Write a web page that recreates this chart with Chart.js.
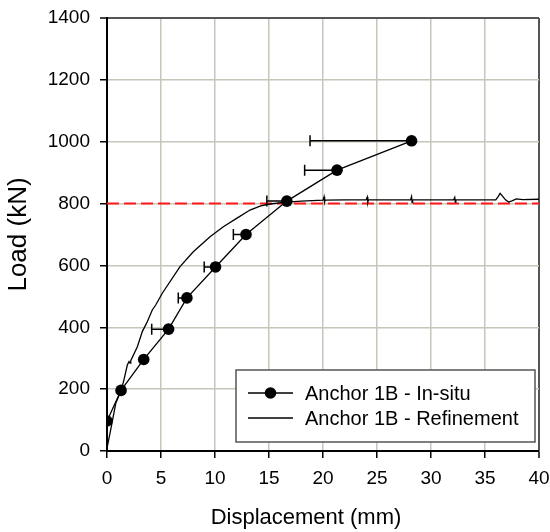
<!DOCTYPE html>
<html>
<head>
<meta charset="utf-8">
<script src="https://cdn.jsdelivr.net/npm/chart.js@4/dist/chart.umd.min.js"></script>
<style>
  html, body { margin: 0; padding: 0; background: #ffffff; }
  #wrap { width: 550px; height: 532px; }
</style>
</head>
<body>
<div id="wrap"><canvas id="c" width="550" height="532"></canvas></div>
<script>
// ---- Data ----
const insituLabel = 'Anchor 1B - In-situ';
const insituX = [0, 1.3, 3.4, 5.7, 7.4, 10.05, 12.87, 16.65, 21.3, 28.2];
const insituY = [97, 196, 296, 394, 495, 595, 700, 808, 908, 1003];
const insituErrLeft = [null, null, null, 4.14, 6.6, 9.0, 11.7, 14.8, 18.3, 18.8];

const refineLabel = 'Anchor 1B - Refinement';
const refineX = [0, 0.03, 0.34, 0.81, 1.32, 1.57, 1.88, 2.04, 2.13, 2.2, 2.81, 3.27, 3.73, 4.19, 4.51, 5.12, 6.76, 7.99, 9.54, 10.77, 12.0, 13.24, 14.17, 14.8, 16.3, 18.0, 20.0, 20.1, 20.15, 20.2, 22.0, 24.0, 24.1, 24.15, 24.2, 26.0, 28.1, 28.2, 28.25, 28.3, 30.0, 32.1, 32.2, 32.25, 32.3, 34.0, 36.0, 36.2, 36.4, 36.6, 36.9, 37.2, 37.5, 37.9, 38.5, 40.0];
const refineY = [0, 14, 68, 154, 197, 230, 278, 289, 284, 292, 337, 386, 418, 456, 472, 510, 596, 644, 693, 725, 752, 779, 792, 797, 804, 808, 811, 822, 805, 811, 812, 812, 821, 804, 812, 812, 812, 823, 803, 812, 812, 812, 820, 805, 812, 812, 812, 822, 833, 825, 812, 805, 809, 815, 813, 814];

const limitX = [0, 40];
const limitY = [800, 800];

const xTicks = [0, 5, 10, 15, 20, 25, 30, 35, 40];
const yTicks = [0, 200, 400, 600, 800, 1000, 1200, 1400];
const xTitle = 'Displacement (mm)';
const yTitle = 'Load (kN)';

// ---- Build ----
const toPts = (xs, ys) => xs.map((x, i) => ({ x: x, y: ys[i] }));
const FONT = "'Liberation Sans', Arial, Helvetica, sans-serif";
const GRID = '#c6c6bb';
const FRAME = '#555555';

const bgPlugin = {
  id: 'bg',
  beforeDraw(chart) {
    const ctx = chart.ctx;
    ctx.save();
    ctx.fillStyle = '#ffffff';
    ctx.fillRect(0, 0, chart.width, chart.height);
    ctx.restore();
  }
};

const errPlugin = {
  id: 'errbars',
  afterDatasetsDraw(chart) {
    const ctx = chart.ctx, xs = chart.scales.x, ys = chart.scales.y;
    ctx.save();
    ctx.strokeStyle = '#000';
    ctx.lineWidth = 1.5;
    insituErrLeft.forEach((e, i) => {
      if (e === null) return;
      const x0 = xs.getPixelForValue(e), x1 = xs.getPixelForValue(insituX[i]);
      const y = ys.getPixelForValue(insituY[i]);
      ctx.beginPath();
      ctx.moveTo(x0, y); ctx.lineTo(x1, y);
      ctx.moveTo(x0, y - 5.5); ctx.lineTo(x0, y + 5.5);
      ctx.stroke();
    });
    ctx.restore();
  }
};

const legendPlugin = {
  id: 'boxlegend',
  afterDraw(chart) {
    const ctx = chart.ctx;
    const bx = 236, by = 370, bw = 299, bh = 72;
    ctx.save();
    ctx.fillStyle = '#ffffff';
    ctx.fillRect(bx, by, bw, bh);
    ctx.strokeStyle = FRAME;
    ctx.lineWidth = 1.5;
    ctx.strokeRect(bx, by, bw, bh);
    const rows = [chart.data.datasets[0], chart.data.datasets[1]];
    rows.forEach((ds, i) => {
      const y = 393 + i * 25;
      ctx.strokeStyle = ds.borderColor;
      ctx.lineWidth = ds.borderWidth;
      ctx.beginPath();
      ctx.moveTo(248, y); ctx.lineTo(293, y);
      ctx.stroke();
      if (ds.pointRadius > 0) {
        ctx.fillStyle = ds.pointBackgroundColor;
        ctx.beginPath();
        ctx.arc(270.5, y, ds.pointRadius, 0, Math.PI * 2);
        ctx.fill();
      }
      ctx.fillStyle = '#000';
      ctx.font = '20px ' + FONT;
      ctx.textAlign = 'left';
      ctx.textBaseline = 'middle';
      ctx.fillText(ds.label, 305, y + 1);
    });
    ctx.restore();
  }
};

const xTitlePlugin = {
  id: 'xtitle',
  afterDraw(chart) {
    const ctx = chart.ctx;
    ctx.save();
    ctx.fillStyle = '#000';
    ctx.font = '22px ' + FONT;
    ctx.textAlign = 'center';
    ctx.textBaseline = 'middle';
    ctx.fillText(xTitle, 306, 518);
    ctx.restore();
  }
};

new Chart(document.getElementById('c'), {
  type: 'scatter',
  data: {
    datasets: [
      {
        label: insituLabel,
        data: toPts(insituX, insituY),
        showLine: true,
        borderColor: '#000000',
        borderWidth: 1.3,
        pointRadius: 5.8,
        pointHoverRadius: 5.8,
        pointBackgroundColor: '#000000',
        pointBorderWidth: 0,
        order: 1
      },
      {
        label: refineLabel,
        data: toPts(refineX, refineY),
        showLine: true,
        borderColor: '#000000',
        borderWidth: 1.3,
        pointRadius: 0,
        tension: 0,
        order: 2
      },
      {
        label: 'limit',
        data: toPts(limitX, limitY),
        showLine: true,
        borderColor: '#ff1a1a',
        borderWidth: 2,
        borderDash: [12, 5],
        pointRadius: 0,
        order: 3
      }
    ]
  },
  options: {
    responsive: false,
    animation: false,
    devicePixelRatio: 1,
    layout: { padding: { left: 0, right: 11, top: 18, bottom: 0 } },
    plugins: { legend: { display: false }, tooltip: { enabled: false } },
    scales: {
      x: {
        type: 'linear',
        min: 0, max: 40,
        afterBuildTicks(s) { s.ticks = xTicks.map(v => ({ value: v })); },
        afterFit(s) { s.height = 81; s.paddingLeft = 0; s.paddingRight = 0; },
        grid: {
          color: (c) => (c.tick && c.tick.value === 40) ? FRAME : GRID,
          lineWidth: (c) => (c.tick && c.tick.value === 40) ? 2 : 1.5,
          tickColor: '#000',
          tickLength: 7,
          tickWidth: 1.5
        },
        border: { color: '#000', width: 2 },
        ticks: { color: '#000', font: { family: FONT, size: 19 }, padding: 9, maxRotation: 0, callback: (v) => String(v) },
        title: { display: false }
      },
      y: {
        type: 'linear',
        min: 0, max: 1400,
        afterBuildTicks(s) { s.ticks = yTicks.map(v => ({ value: v })); },
        afterFit(s) { s.width = 107; s.paddingTop = 0; s.paddingBottom = 0; },
        grid: {
          color: (c) => (c.tick && c.tick.value === 1400) ? FRAME : GRID,
          lineWidth: (c) => (c.tick && c.tick.value === 1400) ? 2 : 1.5,
          tickColor: '#000',
          tickLength: 7,
          tickWidth: 1.5
        },
        border: { color: '#000', width: 2 },
        ticks: { color: '#000', font: { family: FONT, size: 19 }, padding: 10, callback: (v) => String(v) },
        title: {
          display: true,
          text: yTitle,
          color: '#000',
          font: { family: FONT, size: 26 },
          padding: { top: 3, bottom: 0 }
        }
      }
    }
  },
  plugins: [bgPlugin, errPlugin, legendPlugin, xTitlePlugin]
});
</script>
</body>
</html>
